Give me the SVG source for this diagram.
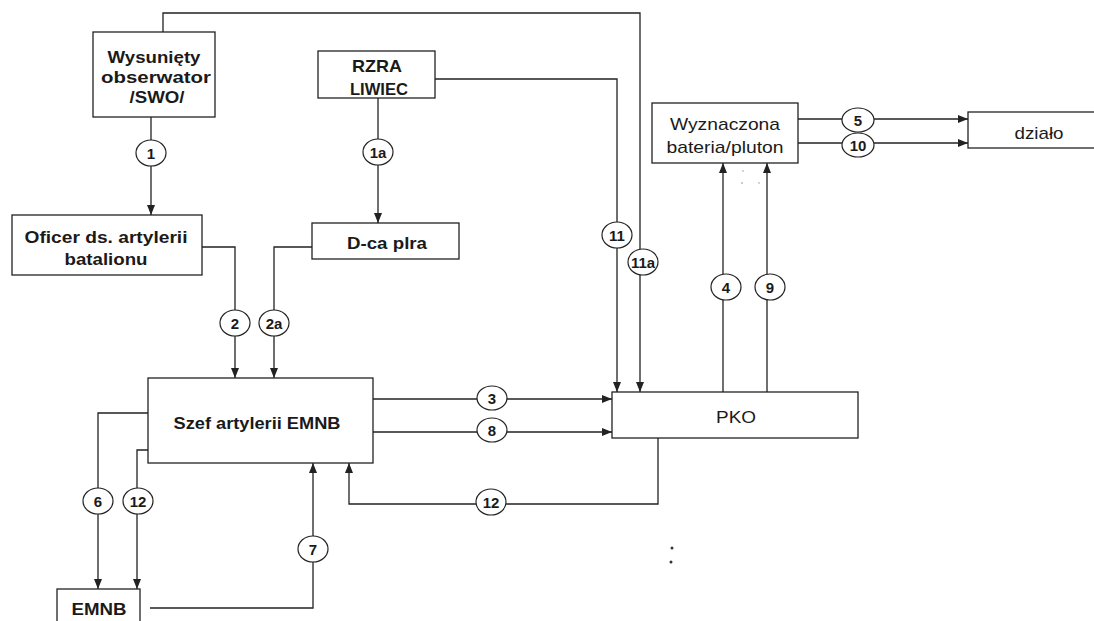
<svg xmlns="http://www.w3.org/2000/svg" width="1094" height="621" viewBox="0 0 1094 621">
<style>
.box{fill:#fff;stroke:#222;stroke-width:1.3}
.ln{fill:none;stroke:#222;stroke-width:1.3}
.arr{fill:none;stroke:#222;stroke-width:1.3;marker-end:url(#ah)}
.cir{fill:#fff;stroke:#222;stroke-width:1.2}
.tb{font-family:"Liberation Sans",Arial,sans-serif;font-weight:bold;font-size:17px;fill:#1a1a1a;text-anchor:middle}
.tn{font-family:"Liberation Sans",Arial,sans-serif;font-size:17px;fill:#1a1a1a;text-anchor:middle}
.tc{font-family:"Liberation Sans",Arial,sans-serif;font-weight:bold;font-size:15px;fill:#1a1a1a;text-anchor:middle}
</style>
<defs>
<marker id="ah" markerUnits="userSpaceOnUse" markerWidth="11" markerHeight="8" refX="10" refY="4" orient="auto">
<path d="M0,0 L10,4 L0,8 z" fill="#222"/>
</marker>
</defs>
<rect width="1094" height="621" fill="#fff"/>

<g id="connectors">
<path class="arr" d="M163,32 V13 H640 V392"/>
<path class="arr" d="M435,79 H617 V392"/>
<path class="arr" d="M151,117 V215"/>
<path class="arr" d="M378,98 V223"/>
<path class="arr" d="M202,247 H235 V378"/>
<path class="arr" d="M312,247 H274 V378"/>
<path class="arr" d="M373,399 H612"/>
<path class="arr" d="M373,432 H612"/>
<path class="arr" d="M723,392 V163"/>
<path class="arr" d="M767,392 V163"/>
<path class="arr" d="M798,119 H968"/>
<path class="arr" d="M798,143 H968"/>
<path class="arr" d="M148,413 H98 V589"/>
<path class="arr" d="M148,450 H137 V589"/>
<path class="arr" d="M150,608 H313 V463"/>
<path class="arr" d="M658,438 V504 H349 V463"/>
</g>

<g id="labels">
<g><ellipse class="cir" cx="151" cy="153" rx="15" ry="13"/><text class="tc" x="151" y="158.5">1</text></g>
<g><ellipse class="cir" cx="378" cy="152" rx="15" ry="13"/><text class="tc" x="378" y="157.5">1a</text></g>
<g><ellipse class="cir" cx="235" cy="323" rx="15" ry="13"/><text class="tc" x="235" y="328.5">2</text></g>
<g><ellipse class="cir" cx="274" cy="323" rx="15" ry="13"/><text class="tc" x="274" y="328.5">2a</text></g>
<g><ellipse class="cir" cx="492" cy="398" rx="15" ry="12"/><text class="tc" x="492" y="403.5">3</text></g>
<g><ellipse class="cir" cx="492" cy="430" rx="15" ry="12"/><text class="tc" x="492" y="435.5">8</text></g>
<g><ellipse class="cir" cx="617" cy="235" rx="15" ry="13"/><text class="tc" x="617" y="240.5">11</text></g>
<g><ellipse class="cir" cx="643" cy="262" rx="15" ry="13"/><text class="tc" x="643" y="267.5">11a</text></g>
<g><ellipse class="cir" cx="726" cy="287" rx="15" ry="13"/><text class="tc" x="726" y="292.5">4</text></g>
<g><ellipse class="cir" cx="770" cy="287" rx="15" ry="13"/><text class="tc" x="770" y="292.5">9</text></g>
<g><ellipse class="cir" cx="858" cy="120" rx="16" ry="12"/><text class="tc" x="858" y="125.5">5</text></g>
<g><ellipse class="cir" cx="858" cy="145" rx="16" ry="12"/><text class="tc" x="858" y="150.5">10</text></g>
<g><ellipse class="cir" cx="98" cy="501" rx="15" ry="13"/><text class="tc" x="98" y="506.5">6</text></g>
<g><ellipse class="cir" cx="138" cy="501" rx="15" ry="13"/><text class="tc" x="138" y="506.5">12</text></g>
<g><ellipse class="cir" cx="313" cy="549" rx="15" ry="13"/><text class="tc" x="313" y="554.5">7</text></g>
<g><ellipse class="cir" cx="491" cy="502" rx="15" ry="13"/><text class="tc" x="491" y="507.5">12</text></g>
</g>

<g id="wysuniety">
<rect class="box" x="93" y="32" width="122" height="85"/>
<text class="tb" x="154" y="63" textLength="93" lengthAdjust="spacingAndGlyphs">Wysunięty</text>
<text class="tb" x="156" y="83" textLength="110" lengthAdjust="spacingAndGlyphs">obserwator</text>
<text class="tb" x="157" y="103" textLength="55" lengthAdjust="spacingAndGlyphs">/SWO/</text>
</g>
<g id="rzra">
<rect class="box" x="318" y="51" width="117" height="47"/>
<text class="tb" x="377" y="72" textLength="50" lengthAdjust="spacingAndGlyphs">RZRA</text>
<text class="tb" x="379" y="95" textLength="58" lengthAdjust="spacingAndGlyphs">LIWIEC</text>
</g>
<g id="oficer">
<rect class="box" x="12" y="215" width="190" height="60"/>
<text class="tb" x="106" y="243" textLength="163" lengthAdjust="spacingAndGlyphs">Oficer ds. artylerii</text>
<text class="tb" x="106" y="265" textLength="83" lengthAdjust="spacingAndGlyphs">batalionu</text>
</g>
<g id="dca">
<rect class="box" x="312" y="223" width="147" height="36"/>
<text class="tb" x="387" y="249" textLength="80" lengthAdjust="spacingAndGlyphs">D-ca plra</text>
</g>
<g id="szef">
<rect class="box" x="148" y="378" width="225" height="85"/>
<text class="tb" x="257" y="429" textLength="167" lengthAdjust="spacingAndGlyphs">Szef artylerii EMNB</text>
</g>
<g id="emnb">
<rect class="box" x="57" y="589" width="83" height="50"/>
<text class="tb" x="99" y="615" textLength="55" lengthAdjust="spacingAndGlyphs">EMNB</text>
</g>
<g id="pko">
<rect class="box" x="612" y="392" width="246" height="46"/>
<text class="tn" x="736" y="423" textLength="40" lengthAdjust="spacingAndGlyphs">PKO</text>
</g>
<g id="wyznaczona">
<rect class="box" x="652" y="103" width="146" height="60"/>
<text class="tn" x="725" y="130" textLength="110" lengthAdjust="spacingAndGlyphs">Wyznaczona</text>
<text class="tn" x="725" y="153" textLength="117" lengthAdjust="spacingAndGlyphs">bateria/pluton</text>
</g>
<g id="dzialo">
<rect class="box" x="968" y="112" width="140" height="36"/>
<text class="tn" x="1039" y="139" textLength="49" lengthAdjust="spacingAndGlyphs">działo</text>
</g>

<g id="marks" fill="#333">
<circle cx="672" cy="548" r="1.5"/>
<circle cx="671" cy="562" r="1.5"/>
<circle cx="743" cy="171" r="0.7" fill="#888"/>
<circle cx="742" cy="183" r="0.8" fill="#888"/>
<circle cx="759" cy="183" r="0.7" fill="#888"/>
</g>
</svg>
